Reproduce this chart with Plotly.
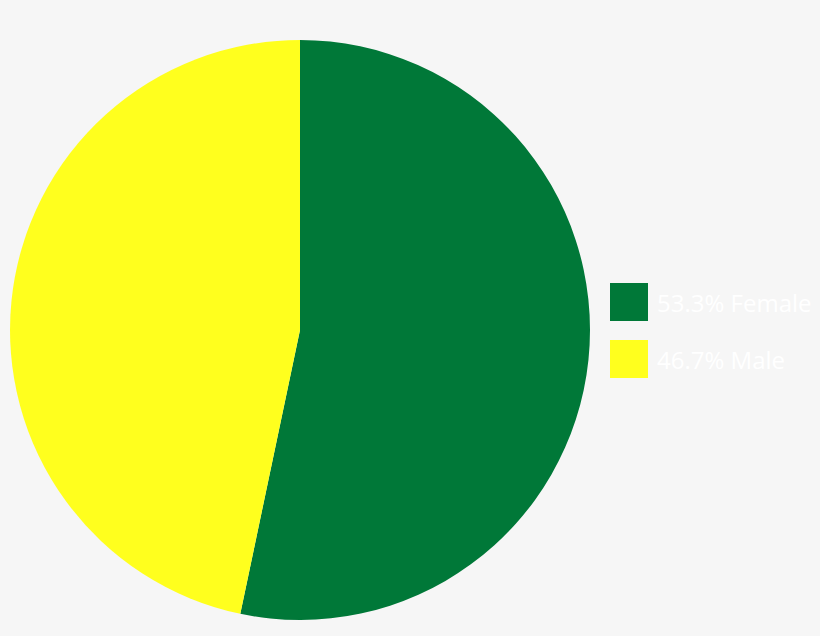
import plotly.graph_objects as go

labels = ["Female", "Male"]
values = [53.3, 46.7]
colors = ["#007838", "#ffff1e"]

W, H = 820, 636

fig = go.Figure()
fig.add_trace(go.Pie(
    labels=labels,
    values=values,
    sort=False,
    direction="clockwise",
    rotation=0,
    marker=dict(colors=colors, line=dict(width=0)),
    textinfo="none",
    hoverinfo="label+percent",
    showlegend=False,
    domain=dict(x=[10 / W, 590 / W], y=[16 / H, 596 / H]),
))

# legend drawn by hand so the swatches can be big
shapes = []
annotations = []
for i, (lab, val) in enumerate(zip(labels, values)):
    top = 283 + i * 57
    shapes.append(dict(
        type="rect", xref="paper", yref="paper",
        x0=610 / W, x1=648 / W, y0=1 - (top + 38) / H, y1=1 - top / H,
        fillcolor=colors[i], line=dict(width=0),
    ))
    annotations.append(dict(
        xref="paper", yref="paper", x=655 / W, y=1 - (top + 19) / H,
        xanchor="left", yanchor="middle", showarrow=False,
        text=f"{val:.1f}% {lab}",
        font=dict(family="Open Sans", size=24, color="white"),
    ))

fig.update_layout(
    width=W,
    height=H,
    margin=dict(l=0, r=0, t=0, b=0),
    paper_bgcolor="#f6f6f6",
    plot_bgcolor="#f6f6f6",
    shapes=shapes,
    annotations=annotations,
)

# drop the default body margin so the figure fills the window
fig.write_html(
    "out.html",
    config={"displayModeBar": False},
    post_script="document.body.style.margin='0';document.body.style.overflow='hidden';",
)
